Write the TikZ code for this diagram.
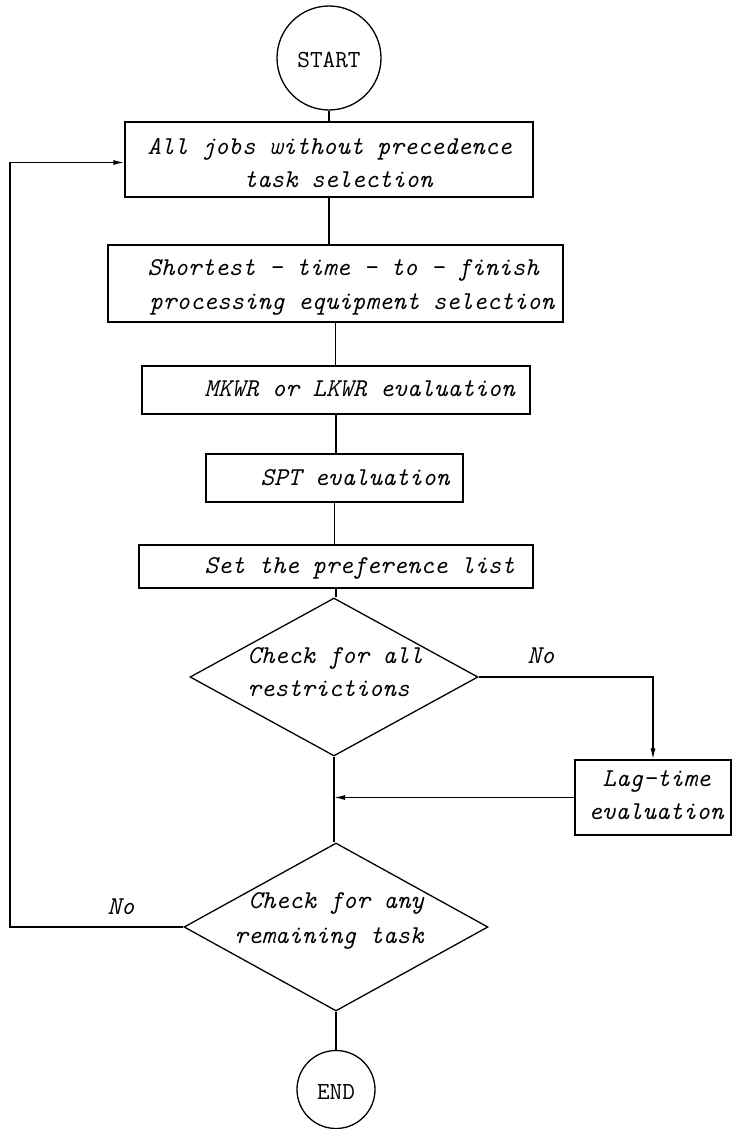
\documentclass[tikz,border=0pt]{standalone}
\usetikzlibrary{shapes.geometric,arrows.meta}
\newcommand\handfont{\fontsize{25.7}{30}\selectfont\ttfamily\itshape}
\newcommand\termfont{\fontsize{24.5}{28}\selectfont\ttfamily}
\begin{document}
\begin{tikzpicture}[x=1pt,y=-1pt, line width=1.3pt,
  box/.style={draw, rectangle, inner sep=0pt},
  term/.style={draw, circle, inner sep=0pt},
  dec/.style={draw, diamond, inner sep=0pt},
  txt/.style={font=\handfont, inner sep=0pt, anchor=mid west, yshift=-4pt},
  arr/.style={-{Latex[length=11pt,width=5pt]}}]
\useasboundingbox (0,0) rectangle (734,1129);
% terminals
\node[term, minimum size=104pt] (start) at (329,58) {};
\node[font=\termfont, inner sep=0pt] (tstart) at (329,60) {START};
\node[term, minimum size=78pt] (end) at (336,1089.5) {};
\node[font=\termfont, inner sep=0pt] (tend) at (336,1092) {END};
% process boxes
\node[box, minimum width=408pt, minimum height=75pt] (b1) at (329,159.5) {};
\node[txt] (t1a) at (147,148) {All jobs without precedence};
\node[txt] (t1b) at (243,181) {task selection};
\node[box, minimum width=455pt, minimum height=77pt] (b2) at (335.5,283.5) {};
\node[txt] (t2a) at (147,269) {Shortest - time - to - finish};
\node[txt] (t2b) at (149,303) {processing equipment selection};
\node[box, minimum width=388pt, minimum height=48pt] (b3) at (336,390) {};
\node[txt] (t3) at (204,390) {MKWR or LKWR evaluation};
\node[box, minimum width=257pt, minimum height=48pt] (b4) at (334.5,478) {};
\node[txt] (t4) at (260,479) {SPT evaluation};
\node[box, minimum width=394pt, minimum height=43pt] (b5) at (336,566.5) {};
\node[txt] (t5) at (204,567) {Set the preference list};
% decision 1
\node[dec, minimum width=288pt, minimum height=158pt] (d1) at (334,677) {};
\node[txt] (td1a) at (247,657) {Check for all};
\node[txt] (td1b) at (247,690) {restrictions};
\node[txt] (no1) at (527,657) {No};
% lag box
\node[box, minimum width=156pt, minimum height=75pt] (lag) at (653,797.5) {};
\node[txt] (tlaga) at (602,780) {Lag-time};
\node[txt] (tlagb) at (588,813) {evaluation};
% decision 2
\node[dec, minimum width=304pt, minimum height=168pt] (d2) at (336,927) {};
\node[txt] (td2a) at (248,902) {Check for any};
\node[txt] (td2b) at (234,937) {remaining task};
\node[txt] (no2) at (107,908) {No};
% connectors
\draw (start.south) -- (start.south |- b1.north);
\draw (b1.south) -- (b1.south |- b2.north);
\draw (b2.south) -- (b2.south |- b3.north);
\draw (b3.south) -- (b3.south |- b4.north);
\draw (b4.south) -- (b4.south |- b5.north);
\draw (b5.south) -- (b5.south |- d1.north);
\draw (d1.south) -- (d1.south |- d2.north);
\draw (d2.south) -- (d2.south |- end.north);
\draw[arr] (d1.east) -| (lag.north);
\draw[arr] (lag.west) -- (lag.west -| d1.south);
\coordinate (lc) at (10,927);
\draw[arr] (d2.west) -- (lc) |- ([yshift=-3pt]b1.west);
\end{tikzpicture}
\end{document}
